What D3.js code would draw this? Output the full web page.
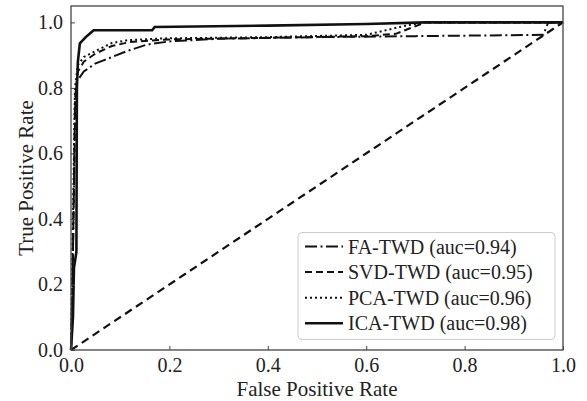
<!DOCTYPE html>
<html>
<head>
<meta charset="utf-8">
<script src="https://cdn.jsdelivr.net/npm/d3@7"></script>
<style>
  body { margin: 0; background: #fff; }
</style>
</head>
<body>
<div id="chart"></div>
<script>
// ROC curves: [fpr, tpr]
const faTwd = [[0,0],[0.003,0.2],[0.006,0.5],[0.008,0.75],[0.012,0.82],[0.026,0.85],[0.049,0.874],[0.066,0.884],[0.083,0.894],[0.113,0.912],[0.154,0.932],[0.2,0.942],[0.3,0.95],[0.5,0.955],[0.7,0.958],[0.96,0.962],[0.97,1.0],[1,1]];
const svdTwd = [[0,0],[0.003,0.2],[0.006,0.5],[0.009,0.78],[0.014,0.85],[0.026,0.88],[0.05,0.905],[0.083,0.928],[0.12,0.94],[0.2,0.948],[0.4,0.953],[0.6,0.958],[0.66,0.965],[0.72,1.0],[1,1]];
const pcaTwd = [[0,0],[0.002,0.2],[0.005,0.5],[0.008,0.8],[0.014,0.87],[0.026,0.894],[0.049,0.912],[0.083,0.937],[0.117,0.946],[0.185,0.951],[0.4,0.955],[0.6,0.962],[0.68,0.99],[0.72,1.0],[1,1]];
const icaTwd = [[0,0],[0.004,0.1],[0.006,0.25],[0.011,0.3],[0.012,0.8],[0.014,0.88],[0.018,0.936],[0.03,0.955],[0.039,0.967],[0.046,0.976],[0.165,0.976],[0.17,0.986],[0.4,0.99],[0.6,0.995],[0.72,1.0],[1,1]];
const chance = [[0,0],[1,1]];

const seriesNames = ["FA-TWD (auc=0.94)", "SVD-TWD (auc=0.95)", "PCA-TWD (auc=0.96)", "ICA-TWD (auc=0.98)"];
const tickValues = [0, 0.2, 0.4, 0.6, 0.8, 1.0];

const serif = "'Liberation Serif', 'Times New Roman', Tinos, Times, 'DejaVu Serif', serif";

const width = 587, height = 401;
const margin = {top: 6, right: 24, bottom: 51, left: 71};
const plotW = width - margin.left - margin.right;
const plotH = height - margin.top - margin.bottom;

const x = d3.scaleLinear().domain([0, 1]).range([0, plotW]);
const y = d3.scaleLinear().domain([0, 1.05]).range([plotH, 0]);

const svg = d3.select("#chart")
    .append("svg")
    .attr("width", width)
    .attr("height", height)
    .attr("font-family", serif);

const g = svg.append("g")
    .attr("transform", "translate(" + margin.left + "," + margin.top + ")");

const line = d3.line()
    .x(d => x(d[0]))
    .y(d => y(d[1]));

const styles = [
    {data: faTwd, dash: "12,3.5,2,3.5", width: 2},
    {data: svdTwd, dash: "7,4", width: 2},
    {data: pcaTwd, dash: "2,3", width: 2},
    {data: icaTwd, dash: null, width: 2.6}
];

g.append("path")
    .attr("d", line(chance))
    .attr("fill", "none")
    .attr("stroke", "#111")
    .attr("stroke-width", 2.2)
    .attr("stroke-dasharray", "8,5");

styles.forEach(s => {
    g.append("path")
        .attr("d", line(s.data))
        .attr("fill", "none")
        .attr("stroke", "#111")
        .attr("stroke-width", s.width)
        .attr("stroke-dasharray", s.dash);
});

// axes with inward ticks
const xAxis = g.append("g")
    .attr("transform", "translate(0," + plotH + ")")
    .call(d3.axisBottom(x).tickValues(tickValues).tickFormat(d3.format(".1f")).tickSize(-4).tickPadding(8));
const yAxis = g.append("g")
    .call(d3.axisLeft(y).tickValues(tickValues).tickFormat(d3.format(".1f")).tickSize(-4).tickPadding(8));

[xAxis, yAxis].forEach(a => {
    a.attr("font-family", null);
    a.select(".domain").remove();
    a.selectAll("line").attr("stroke", "#444");
    a.selectAll("text")
        .style("font-family", serif)
        .style("font-size", "20px")
        .attr("fill", "#222");
});
xAxis.selectAll("text").attr("y", 22).attr("dy", null);
yAxis.selectAll("text").attr("dy", "0.32em");

g.append("rect")
    .attr("width", plotW)
    .attr("height", plotH)
    .attr("fill", "none")
    .attr("stroke", "#444")
    .attr("stroke-width", 1.3);

g.append("text")
    .attr("x", plotW / 2)
    .attr("y", plotH + 46)
    .attr("text-anchor", "middle")
    .attr("fill", "#222")
    .style("font-family", serif)
    .style("font-size", "21px")
    .text("False Positive Rate");

svg.append("text")
    .attr("transform", "translate(33," + (margin.top + plotH / 2) + ") rotate(-90)")
    .attr("text-anchor", "middle")
    .attr("fill", "#222")
    .style("font-family", serif)
    .style("font-size", "21px")
    .text("True Positive Rate");

// legend
const legend = svg.append("g")
    .attr("transform", "translate(298,232.5)");

legend.append("rect")
    .attr("width", 257)
    .attr("height", 107)
    .attr("rx", 4)
    .attr("fill", "#fff")
    .attr("fill-opacity", 0.85)
    .attr("stroke", "#ccc");

const rows = legend.selectAll(".row")
    .data(styles)
    .join("g")
    .attr("class", "row")
    .attr("transform", (d, i) => "translate(0," + (14 + i * 25.6) + ")");

rows.append("line")
    .attr("x1", 7)
    .attr("x2", 45)
    .attr("stroke", "#111")
    .attr("stroke-width", d => d.width)
    .attr("stroke-dasharray", d => d.dash);

rows.append("text")
    .attr("x", 50)
    .attr("dy", "0.35em")
    .attr("fill", "#222")
    .style("font-family", serif)
    .style("font-size", "20px")
    .text((d, i) => seriesNames[i]);
</script>
</body>
</html>
